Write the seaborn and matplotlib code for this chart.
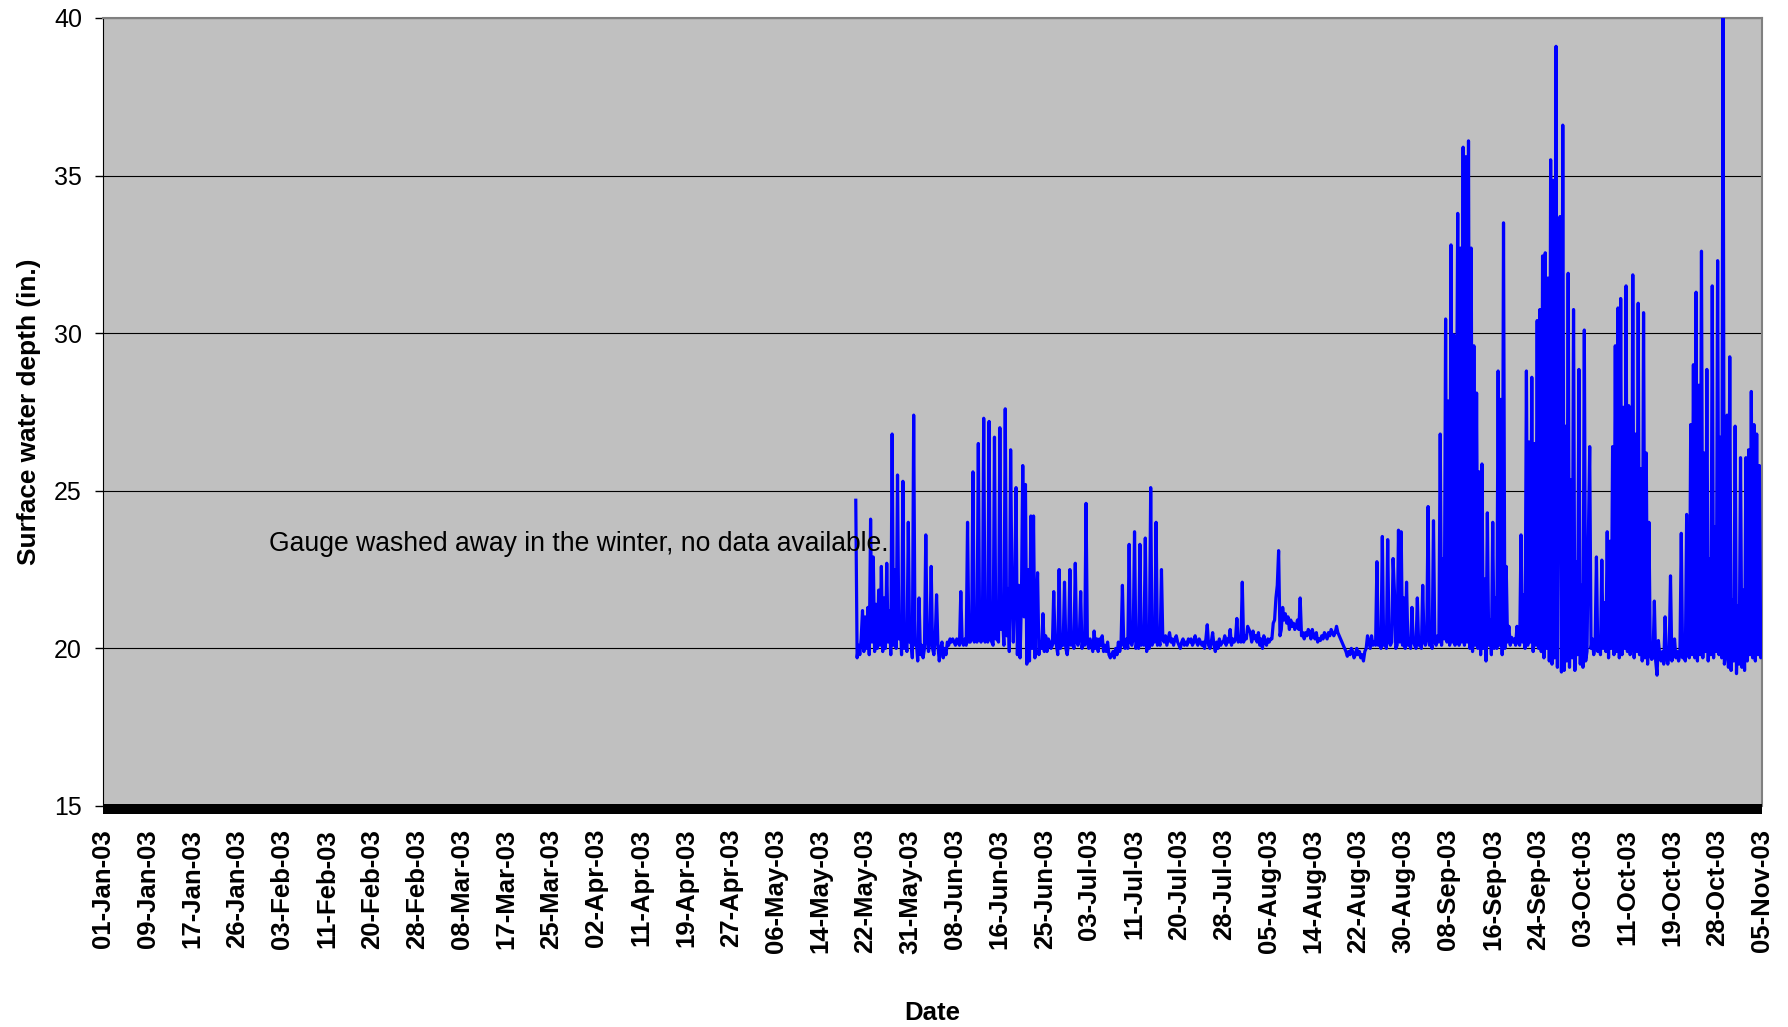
import numpy as np
import pandas as pd
import matplotlib
matplotlib.use("Agg")
import matplotlib.pyplot as plt
import matplotlib.dates as mdates
import seaborn as sns

# ---------------- data (6-hourly readings, first reading 20-May-03 18:00) ----------------
start_time = "2003-05-20 18:00"

may_depth = [24.7,
    19.7, 20.1, 19.8, 20.3,   # 21 May
    21.2, 19.9, 21.0, 20.0,
    21.3, 19.8, 24.1, 20.2,
    22.9, 19.9, 21.4, 20.0,
    21.85, 20.1, 22.6, 19.9,
    21.6, 20.0, 22.7, 20.2,
    21.2, 19.8, 26.8, 20.1,
    22.5, 20.0, 25.5, 20.3,
    21.0, 19.8, 25.3, 20.0,
    20.2, 19.9, 24.0, 20.2,
    20.3, 19.7, 27.4, 20.1]   # 31 May

jun_depth = [
    20.2, 19.6, 21.6, 19.8,   # 1 Jun
    20.1, 19.7, 20.0, 23.6,
    20.3, 19.9, 20.2, 22.6,
    20.0, 19.8, 20.3, 21.7,
    20.1, 19.6, 20.0, 20.2,
    19.7, 20.0, 19.8, 20.2,
    20.1, 20.3, 20.2, 20.3,
    20.2, 20.1, 20.3, 20.2,
    20.1, 21.8, 20.2, 20.1,
    20.3, 20.1, 24.0, 20.2,   # 10 Jun
    20.2, 20.3, 25.6, 20.2,
    20.4, 20.2, 26.5, 20.3,
    20.2, 20.3, 27.3, 20.2,
    20.4, 20.2, 27.2, 20.3,
    20.2, 20.1, 26.7, 20.3,
    20.3, 20.2, 27.0, 20.6,
    21.0, 20.1, 27.6, 20.4,
    21.9, 19.9, 26.3, 21.8,
    20.2, 21.9, 25.1, 19.8,
    22.0, 19.7, 21.5, 25.8,   # 20 Jun
    21.0, 25.2, 19.5, 22.5,
    19.6, 24.2, 20.0, 24.2,
    19.7, 21.2, 22.4, 19.8,
    20.2, 20.0, 21.1, 19.9,
    20.4, 19.9, 20.3, 20.2,
    20.0, 20.1, 21.8, 20.2,
    20.1, 19.8, 22.5, 20.0,
    20.3, 20.1, 22.1, 20.0,
    19.8, 20.2, 22.5, 20.1,
    20.3, 20.0, 22.7, 20.2]   # 30 Jun

jul_depth = [
    20.1, 20.3, 21.8, 20.0,   # 1 Jul
    20.4, 20.1, 24.6, 20.2,
    20.0, 20.3, 20.1, 19.9,
    20.55, 20.0, 20.3, 19.9,
    20.3, 20.1, 20.4, 19.9,
    20.1, 19.9, 20.2, 19.8,
    19.7, 19.8, 19.9, 19.7,
    20.0, 19.8, 20.2, 19.9,
    20.2, 22.0, 20.1, 20.0,
    20.3, 20.0, 23.3, 20.2,   # 10 Jul
    20.1, 20.3, 23.7, 20.0,
    20.2, 20.0, 23.3, 20.1,
    20.3, 20.1, 23.5, 19.9,
    20.2, 20.0, 25.1, 20.1,
    20.3, 20.2, 24.0, 20.1,
    20.2, 20.1, 22.5, 20.3,
    20.2, 20.4, 20.1, 20.3,
    20.5, 20.2, 20.3, 20.1,
    20.3, 20.4, 20.2, 20.1,
    20.0, 20.2, 20.3, 20.1,   # 20 Jul
    20.2, 20.1, 20.3, 20.2,
    20.3, 20.1, 20.2, 20.4,
    20.2, 20.1, 20.3, 20.2,
    20.1, 20.2, 20.0, 20.3,
    20.75, 20.1, 20.0, 20.2,
    20.5, 20.1, 19.9, 20.2,
    20.0, 20.3, 20.1, 20.2,
    20.2, 20.4, 20.1, 20.3,
    20.2, 20.6, 20.1, 20.3,
    20.2, 20.3, 20.95, 20.2,
    20.3, 20.2, 22.1, 20.2]   # 31 Jul

aug_depth = [
    20.4, 20.3, 20.7, 20.6,   # 1 Aug
    20.5, 20.2, 20.55, 20.3,
    20.4, 20.2, 20.5, 20.1,
    20.3, 20.0, 20.4, 20.2,
    20.1, 20.3, 20.2, 20.3,
    20.3, 20.8, 20.9, 21.6,
    22.0, 23.1, 20.4, 20.6,
    21.3, 20.9, 21.1, 20.8,
    21.0, 20.6, 20.9, 20.7,
    20.8, 20.6, 20.7, 20.9,   # 10 Aug
    20.6, 21.6, 20.4, 20.5,
    20.3, 20.5, 20.4, 20.6,
    20.5, 20.3, 20.6, 20.4,
    20.3, 20.5, 20.2, 20.3,
    20.25, 20.4, 20.3, 20.5,
    20.4, 20.3, 20.5, 20.4,
    20.6, 20.5, 20.4, 20.5,
    20.7, 20.5, 20.4, 20.3,
    20.2, 20.1, 20.0, 19.9,
    19.75, 19.9, 19.8, 20.0,  # 20 Aug
    19.9, 19.7, 19.8, 20.0,
    19.8, 19.9, 19.7, 19.8,
    19.6, 19.9, 20.0, 20.4,
    20.2, 20.0, 20.4, 20.1,
    20.2, 20.1, 22.75, 20.1,
    20.2, 20.0, 23.55, 20.1,
    20.3, 20.0, 23.45, 20.2,
    20.1, 20.2, 22.85, 21.8,
    20.0, 20.1, 23.75, 20.2,
    23.7, 20.1, 21.6, 20.0,
    22.1, 20.1, 20.3, 20.0]   # 31 Aug

sep_depth = [
    21.3, 20.2, 20.1, 20.0,   # 1 Sep
    21.6, 20.1, 20.2, 20.0,
    22.0, 20.2, 20.1, 20.3,
    24.5, 20.1, 20.2, 20.0,
    24.05, 20.2, 20.1, 20.4,
    20.2, 26.8, 20.1, 22.85,
    20.3, 30.45, 20.2, 27.85,
    20.1, 32.8, 20.2, 29.95,
    20.1, 26.0, 33.8, 20.1,
    32.7, 20.2, 35.9, 20.1,   # 10 Sep
    35.6, 20.2, 36.1, 20.0,
    32.7, 19.9, 29.6, 20.1,
    28.1, 20.0, 25.6, 19.8,
    25.85, 20.0, 22.2, 19.6,
    24.3, 20.1, 20.9, 19.8,
    24.0, 20.0, 21.6, 20.0,
    28.8, 20.1, 27.9, 19.8,
    33.5, 20.0, 22.6, 20.2,
    20.7, 20.1, 20.35, 20.2,
    20.3, 20.1, 20.7, 20.2,   # 20 Sep
    20.1, 23.6, 20.2, 21.7,
    20.0, 28.8, 20.1, 26.55,
    20.2, 28.6, 19.9, 26.5,
    20.1, 30.4, 20.0, 30.75,
    19.9, 32.45, 19.7, 32.55,
    20.0, 31.75, 19.6, 35.5,
    19.5, 34.85, 19.7, 39.1,
    19.4, 28.0, 33.7, 19.25,
    36.6, 19.3, 27.05, 19.6,
    31.9, 19.4, 25.35, 19.7]  # 30 Sep

oct_depth = [
    30.75, 19.3, 22.75, 19.8,  # 1 Oct
    28.85, 19.5, 22.0, 19.4,
    30.1, 19.6, 19.9, 23.5,
    26.4, 20.0, 20.3, 19.8,
    20.1, 22.9, 19.9, 20.2,
    19.8, 22.8, 20.0, 21.45,
    19.9, 23.7, 19.7, 23.4,
    20.0, 26.4, 19.8, 29.6,
    19.9, 30.8, 19.7, 31.1,
    19.8, 27.65, 20.0, 31.5,   # 10 Oct
    19.9, 27.7, 19.8, 20.1,
    31.85, 19.7, 26.8, 19.9,
    30.95, 19.8, 25.7, 19.6,
    30.65, 19.7, 26.2, 19.5,
    24.0, 19.8, 19.65, 19.7,
    21.5, 19.6, 19.15, 20.25,
    19.8, 19.6, 19.9, 19.5,
    21.0, 19.7, 19.5, 19.8,
    22.3, 19.6, 19.8, 20.3,
    19.7, 19.9, 19.6, 19.8,    # 20 Oct
    23.65, 19.7, 19.8, 19.6,
    24.25, 19.8, 19.7, 27.1,
    19.8, 29.0, 19.7, 31.3,
    19.6, 28.35, 19.8, 32.6,
    19.7, 26.2, 19.9, 28.85,
    19.6, 22.85, 19.8, 31.5,
    19.7, 23.85, 19.9, 32.3,
    19.8, 26.7, 19.7, 40.5,
    19.5, 19.8, 27.4, 19.4,
    29.25, 19.3, 21.55, 19.6,
    27.05, 19.2, 21.35, 19.5]  # 31 Oct

nov_depth = [
    26.05, 19.4, 21.85, 19.3,  # 1 Nov
    26.05, 19.6, 26.3, 19.8,
    28.15, 19.7, 27.1, 19.6,
    26.8, 19.8, 25.8, 19.7,
    20.1]                      # 5 Nov 00:00

tick_labels = ["01-Jan-03", "09-Jan-03", "17-Jan-03", "26-Jan-03", "03-Feb-03",
               "11-Feb-03", "20-Feb-03", "28-Feb-03", "08-Mar-03", "17-Mar-03",
               "25-Mar-03", "02-Apr-03", "11-Apr-03", "19-Apr-03", "27-Apr-03",
               "06-May-03", "14-May-03", "22-May-03", "31-May-03", "08-Jun-03",
               "16-Jun-03", "25-Jun-03", "03-Jul-03", "11-Jul-03", "20-Jul-03",
               "28-Jul-03", "05-Aug-03", "14-Aug-03", "22-Aug-03", "30-Aug-03",
               "08-Sep-03", "16-Sep-03", "24-Sep-03", "03-Oct-03", "11-Oct-03",
               "19-Oct-03", "28-Oct-03", "05-Nov-03"]
y_ticks = [15, 20, 25, 30, 35, 40]
note_text = "Gauge washed away in the winter, no data available."
note_date = "2003-01-31 20:00"
note_depth = 23.3
axis_start = "2003-01-01"
axis_end = "2003-11-05"

# ---------------- build ----------------
depth = may_depth + jun_depth + jul_depth + aug_depth + sep_depth + oct_depth + nov_depth
times = pd.date_range(start_time, periods=len(depth), freq="6h")
df = pd.DataFrame({"Date": times, "Depth": depth})

plt.rcParams["font.family"] = ["Liberation Sans", "DejaVu Sans"]

fig = plt.figure(figsize=(17.88, 10.27), dpi=100)
ax = fig.add_axes([0.0576, 0.2152, 0.9279, 0.7673])
ax.set_facecolor("#C0C0C0")

sns.lineplot(data=df, x="Date", y="Depth", ax=ax, color="#0000FF",
             linewidth=2.3, estimator=None, zorder=3)

x0 = mdates.date2num(pd.Timestamp(axis_start))
x1 = mdates.date2num(pd.Timestamp(axis_end))
ax.set_xlim(x0, x1)
ax.set_ylim(y_ticks[0], y_ticks[-1])

ax.tick_params(axis="x", length=0, pad=14.4, labelsize=18.5, labelrotation=90)
ax.tick_params(axis="y", direction="out", length=5.8, width=1, color="black",
               pad=9.4, labelsize=18)

ax.set_xticks(np.linspace(x0, x1, len(tick_labels)))
ax.set_xticklabels(tick_labels, rotation=90, fontsize=18.5, fontweight="bold",
                   ha="center", va="top")
ax.set_yticks(y_ticks)
ax.set_yticklabels([str(v) for v in y_ticks], fontsize=18)

ax.yaxis.grid(True, color="black", linewidth=0.8)
ax.xaxis.grid(False)
ax.set_axisbelow(True)

for side in ("top", "right"):
    ax.spines[side].set_color("#808080")
    ax.spines[side].set_linewidth(1.5)
ax.spines["left"].set_color("black")
ax.spines["left"].set_linewidth(0.8)
ax.spines["bottom"].set_color("black")
ax.spines["bottom"].set_linewidth(7.2)
ax.spines["bottom"].set_capstyle("butt")
ax.spines["bottom"].set_position(("outward", 2.16))

ax.set_xlabel("Date", fontsize=18.5, fontweight="bold", va="top")
ax.xaxis.set_label_coords(0.5, -0.247)
ax.set_ylabel("Surface water depth (in.)", fontsize=18.9, fontweight="bold")
ax.yaxis.set_label_coords(-0.0376, 0.5)

ax.text(mdates.date2num(pd.Timestamp(note_date)), note_depth, note_text,
        fontsize=19.1, ha="left", va="center", color="black", zorder=4)

for lbl in ax.get_xticklabels():
    lbl.set_fontweight("bold")
    lbl.set_fontsize(18.5)
    lbl.set_rotation(90)

fig.savefig("out.png", dpi=100, facecolor="white")
